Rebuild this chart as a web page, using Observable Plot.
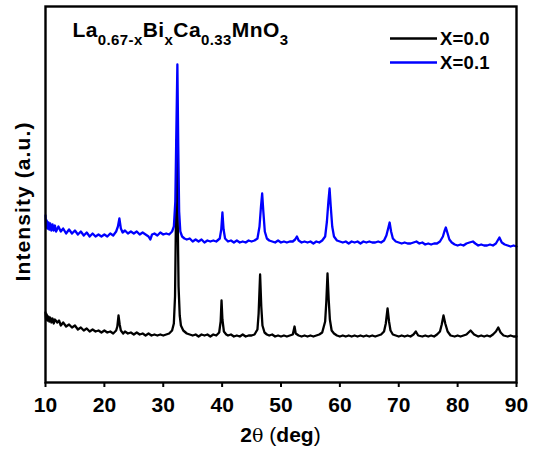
<!DOCTYPE html>
<html><head><meta charset="utf-8">
<script src="https://cdn.jsdelivr.net/npm/d3@7"></script>
<script src="https://cdn.jsdelivr.net/npm/@observablehq/plot@0.6"></script>
<style>html,body{margin:0;padding:0;background:#fff;overflow:hidden;} #chart svg{display:block;}</style>
</head><body><div id="chart"></div>
<script>
// [2θ (deg), intensity (a.u.)]
const blackData = [[10.0,69],[10.1,62],[10.2,67],[10.35,61],[10.5,65],[10.65,60],[10.8,64],[11.0,59],[11.2,63],[11.4,58],[11.6,62],[12.0,59],[12.3,61],[12.6,56],[13.0,59],[13.5,55],[14.0,57],[14.5,54],[15.0,56],[15.5,52],[16.0,54],[16.5,51],[17.0,53],[17.5,50],[18.0,52],[18.5,50],[19.0,51],[19.5,49],[20.0,51],[20.5,49],[21.0,50],[21.5,48],[22.0,51],[22.2,55],[22.4,66],[22.6,57],[22.8,51],[23.2,48],[23.5,50],[24.0,48],[24.5,49],[25.0,47],[25.5,49],[26.0,47],[26.5,48],[27.0,46],[27.5,48],[28.0,46],[28.5,47],[29.0,46],[29.5,47],[30.0,46],[30.5,47],[31.0,48],[31.5,51],[31.8,58],[32.0,85],[32.15,160],[32.3,242],[32.45,165],[32.6,95],[32.8,66],[33.0,56],[33.4,51],[34.0,48],[34.5,47],[35.0,46],[35.5,47],[36.0,45],[36.5,47],[37.0,46],[37.5,47],[38.0,45],[38.5,47],[39.0,46],[39.5,49],[39.75,60],[39.9,81],[40.05,62],[40.3,50],[40.7,47],[41.0,46],[41.5,47],[42.0,45],[42.5,46],[43.0,45],[43.5,47],[44.0,45],[44.5,46],[45.0,46],[45.5,47],[46.0,52],[46.2,68],[46.45,107],[46.65,75],[46.85,56],[47.2,49],[47.6,47],[48.0,46],[48.5,47],[49.0,45],[49.5,46],[50.0,45],[50.5,46],[51.0,45],[51.5,46],[52.0,47],[52.3,55],[52.5,48],[53.0,46],[53.5,45],[54.0,46],[54.5,45],[55.0,46],[55.5,45],[56.0,46],[56.5,47],[57.0,49],[57.5,60],[57.7,80],[57.9,108],[58.1,82],[58.3,62],[58.6,51],[59.0,48],[59.5,46],[60.0,45],[60.5,46],[61.0,45],[61.5,46],[62.0,45],[62.5,46],[63.0,45],[63.5,46],[64.0,45],[64.5,46],[65.0,45],[65.5,46],[66.0,45],[66.5,46],[67.0,47],[67.5,50],[67.8,58],[68.1,73],[68.35,60],[68.6,51],[69.0,47],[69.5,46],[70.0,45],[70.5,46],[71.0,45],[71.5,46],[72.0,45],[72.5,47],[72.9,50],[73.3,46],[74.0,45],[74.5,46],[75.0,45],[75.5,46],[76.0,45],[76.5,47],[77.0,50],[77.3,57],[77.6,66],[77.9,58],[78.3,50],[78.8,46],[79.5,45],[80.0,46],[80.5,45],[81.0,46],[81.5,47],[82.2,51],[82.8,47],[83.5,45],[84.0,46],[84.5,45],[85.0,46],[85.5,45],[86.0,47],[86.5,50],[86.9,54],[87.3,49],[87.8,46],[88.5,45],[89.0,46],[89.5,45],[90.0,45]];
const blueData = [[10.0,166],[10.1,154],[10.2,161],[10.35,153],[10.5,159],[10.65,152],[10.8,158],[11.0,151],[11.2,157],[11.4,151],[11.6,156],[11.8,150],[12.2,155],[12.6,150],[13.0,153],[13.5,148],[14.0,152],[14.5,148],[15.0,151],[15.5,147],[16.0,150],[16.5,146],[17.0,149],[17.5,145],[18.0,148],[18.5,145],[19.0,147],[19.5,145],[20.0,147],[20.5,145],[21.0,148],[21.5,146],[22.0,150],[22.3,155],[22.55,163],[22.8,153],[23.1,149],[23.5,151],[24.0,148],[24.5,150],[25.0,148],[25.5,150],[26.0,147],[26.5,149],[27.0,147],[27.5,145],[27.8,142],[28.1,147],[28.5,148],[29.0,146],[29.5,149],[30.0,147],[30.5,148],[31.0,147],[31.5,150],[31.8,155],[32.05,180],[32.2,240],[32.4,317],[32.55,235],[32.7,170],[32.9,150],[33.2,145],[33.6,143],[34.0,142],[34.5,143],[35.0,140],[35.5,142],[36.0,140],[36.5,142],[37.0,139],[37.5,141],[38.0,140],[38.5,141],[39.0,140],[39.6,143],[39.85,152],[40.05,169],[40.25,152],[40.5,143],[41.0,140],[41.5,141],[42.0,139],[42.5,141],[43.0,139],[43.5,140],[44.0,139],[44.5,141],[45.0,140],[45.5,141],[46.0,143],[46.35,155],[46.6,175],[46.8,188],[47.0,170],[47.25,150],[47.6,143],[48.0,141],[48.5,140],[49.0,139],[49.5,141],[50.0,139],[50.5,140],[51.0,139],[51.5,140],[52.0,140],[52.4,142],[52.7,145],[53.0,141],[53.5,139],[54.0,140],[54.5,139],[55.0,140],[55.5,138],[56.0,140],[56.5,139],[57.0,141],[57.5,145],[57.8,160],[58.05,180],[58.25,193],[58.45,175],[58.7,155],[59.0,145],[59.5,141],[60.0,140],[60.5,139],[61.0,140],[61.5,138],[62.0,140],[62.5,139],[63.0,140],[63.5,138],[64.0,140],[64.5,139],[65.0,140],[65.5,139],[66.0,139],[66.5,140],[67.0,139],[67.5,141],[67.9,146],[68.2,153],[68.45,159],[68.7,150],[69.0,143],[69.5,140],[70.0,139],[70.5,138],[71.0,139],[71.5,138],[72.0,138],[72.5,139],[73.0,140],[73.5,138],[74.0,139],[74.5,137],[75.0,138],[75.5,137],[76.0,138],[76.5,138],[77.0,140],[77.5,145],[77.75,150],[78.0,154],[78.25,149],[78.6,142],[79.0,139],[79.5,137],[80.0,136],[80.5,137],[81.0,136],[81.5,138],[82.0,139],[82.6,140],[83.0,138],[83.5,136],[84.0,137],[84.5,136],[85.0,136],[85.5,137],[86.0,136],[86.5,138],[87.1,144],[87.5,139],[88.0,137],[88.5,136],[89.0,135],[89.5,136],[90.0,135]];
const seriesNames = ["X=0.0", "X=0.1"];
const seriesColors = ["#000000", "#0000ff"];
const xTicks = [10, 20, 30, 40, 50, 60, 70, 80, 90];
const xDomain = [10, 90];
const yDomain = [-1, 375];

const rows = [
  ...blackData.map(([x, y]) => ({x, y, s: seriesNames[0]})),
  ...blueData.map(([x, y]) => ({x, y, s: seriesNames[1]}))
];

const FONT = "'Liberation Sans', Arial, Helvetica, sans-serif";
const plot = Plot.plot({
  width: 538, height: 449,
  marginLeft: 45, marginRight: 22, marginTop: 6, marginBottom: 67,
  style: {fontFamily: FONT, background: "#fff"},
  x: {domain: xDomain},
  y: {domain: yDomain, axis: null},
  color: {domain: seriesNames, range: seriesColors},
  marks: [
    Plot.line(rows, {x: "x", y: "y", z: "s", stroke: "s", strokeWidth: 2.3, strokeLinejoin: "round"}),
    Plot.frame({stroke: "black", strokeWidth: 2.4}),
    Plot.axisX({ticks: xTicks, tickSize: 5, tickPadding: 10, tickFormat: d => String(d),
      fontSize: 21, fontWeight: "bold", stroke: "black", strokeWidth: 2, label: null})
  ]
});
document.getElementById("chart").appendChild(plot);

const svg = d3.select(plot);
const fx = plot.scale("x");
const [bx0, bx1] = fx.range;

// Title with subscripts
const title = svg.append("text").attr("x", 72.5).attr("y", 36.7).attr("text-anchor", "start")
  .attr("font-family", FONT).attr("font-weight", "bold").attr("font-size", 21)
  .attr("letter-spacing", 0.4).attr("fill", "#000");
const parts = [["La", false], ["0.67-x", true], ["Bi", false], ["x", true], ["Ca", false], ["0.33", true], ["MnO", false], ["3", true]];
let prevSub = false;
parts.forEach(([t, sub]) => {
  const ts = title.append("tspan").text(t);
  if (sub) { ts.attr("font-size", 15); if (!prevSub) ts.attr("dy", 8); }
  else if (prevSub) { ts.attr("dy", -8); }
  prevSub = sub;
});

// Legend
const legY = [38.5, 62.5];
seriesNames.forEach((name, i) => {
  svg.append("line").attr("x1", 390).attr("x2", 437).attr("y1", legY[i]).attr("y2", legY[i])
    .attr("stroke", seriesColors[i]).attr("stroke-width", 2.5);
  svg.append("text").attr("x", 440).attr("y", legY[i] + 6.7).attr("text-anchor", "start")
    .attr("font-family", FONT).attr("font-weight", "bold").attr("font-size", 18.5)
    .attr("letter-spacing", 0.2).attr("fill", "#000").text(name);
});

// Y axis label
svg.append("text").attr("transform", "translate(29.5,201.5) rotate(-90)")
  .attr("text-anchor", "middle").attr("font-family", FONT).attr("font-weight", "bold")
  .attr("font-size", 21).attr("letter-spacing", 1.1).attr("fill", "#000").text("Intensity (a.u.)");

// X axis label
const xl = svg.append("text").attr("x", (bx0 + bx1) / 2).attr("y", 441.7)
  .attr("text-anchor", "middle").attr("font-family", FONT).attr("font-size", 21).attr("fill", "#000");
xl.append("tspan").attr("font-weight", "bold").text("2");
xl.append("tspan").attr("font-family", "'DejaVu Serif', serif").attr("font-size", 19).text("θ");
xl.append("tspan").text(" (");
xl.append("tspan").attr("font-weight", "bold").text("deg");
xl.append("tspan").text(")");
</script>
</body></html>
